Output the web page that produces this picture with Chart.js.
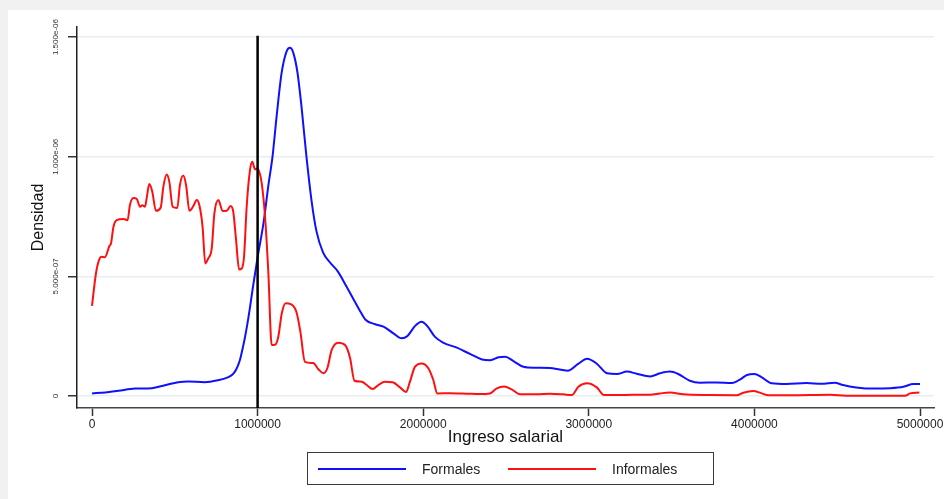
<!DOCTYPE html>
<html>
<head>
<meta charset="utf-8">
<script src="https://cdn.jsdelivr.net/npm/chart.js@4.4.1/dist/chart.umd.min.js"></script>
<style>
  html, body { margin: 0; padding: 0; background: #f1f1f1; }
  #panel { position: absolute; left: 8px; top: 10px; width: 936px; height: 489px; background: #fff; overflow: hidden; }
  #chart { position: absolute; left: 0; top: 0; }
  #legend {
    position: absolute; left: 299px; top: 442px; width: 405px; height: 31px;
    border: 1px solid #3a3a3a; font-family: 'Liberation Sans', Arial, sans-serif;
    font-size: 14px; color: #222;
  }
  .item { position: absolute; top: 0; height: 31px; display: flex; align-items: center; white-space: nowrap; }
  .swatch { width: 88px; height: 2px; margin-right: 16px; }
</style>
</head>
<body>
<div id="panel">
  <canvas id="chart" width="936" height="489"></canvas>
  <div id="legend"></div>
</div>
<script>
// kernel density of wage income, formal vs informal workers
const formalesX = [
  0, 80000, 160000, 260000, 360000, 440000, 520000, 580000, 680000, 760000,
  820000, 845000, 865000, 880000, 895000, 910000, 925000, 945000, 975000, 1000000,
  1035000, 1065000, 1090000, 1115000, 1145000, 1175000, 1195000, 1215000, 1240000, 1265000,
  1295000, 1325000, 1355000, 1395000, 1435000, 1485000, 1535000, 1575000, 1615000, 1650000,
  1710000, 1760000, 1820000, 1870000, 1905000, 1950000, 1990000, 2025000, 2070000, 2120000,
  2200000, 2285000, 2355000, 2405000, 2455000, 2495000, 2545000, 2605000, 2675000, 2765000,
  2825000, 2875000, 2935000, 2990000, 3050000, 3110000, 3170000, 3230000, 3290000, 3370000,
  3430000, 3490000, 3540000, 3610000, 3670000, 3770000, 3865000, 3915000, 3955000, 4000000,
  4045000, 4105000, 4195000, 4315000, 4405000, 4485000, 4535000, 4615000, 4720000, 4820000,
  4900000, 4960000, 5000000
];
const formalesY = [
  1.1e-8, 1.5e-8, 2.2e-8, 3.1e-8, 3.3e-8, 4.5e-8, 5.8e-8, 6.1e-8, 5.8e-8, 6.6e-8,
  7.8e-8, 8.8e-8, 1.04e-7, 1.25e-7, 1.55e-7, 2.0e-7, 2.5e-7, 3.3e-7, 4.7e-7, 5.8e-7,
  7.2e-7, 8.8e-7, 1.0e-6, 1.17e-6, 1.35e-6, 1.44e-6, 1.455e-6, 1.435e-6, 1.355e-6, 1.21e-6,
  1.0e-6, 8.2e-7, 6.9e-7, 6.0e-7, 5.6e-7, 5.2e-7, 4.6e-7, 4.1e-7, 3.6e-7, 3.2e-7,
  3.0e-7, 2.9e-7, 2.62e-7, 2.41e-7, 2.51e-7, 2.92e-7, 3.1e-7, 2.92e-7, 2.48e-7, 2.23e-7,
  2.03e-7, 1.75e-7, 1.53e-7, 1.5e-7, 1.62e-7, 1.64e-7, 1.46e-7, 1.22e-7, 1.18e-7, 1.17e-7,
  1.11e-7, 1.06e-7, 1.34e-7, 1.56e-7, 1.34e-7, 9.5e-8, 9.2e-8, 1.02e-7, 9.3e-8, 8.2e-8,
  9.5e-8, 1.02e-7, 9.2e-8, 6.4e-8, 5.6e-8, 5.7e-8, 5.4e-8, 7.0e-8, 8.8e-8, 9.2e-8,
  7.8e-8, 5.3e-8, 5.0e-8, 5.4e-8, 5.1e-8, 5.6e-8, 4.6e-8, 3.6e-8, 3.1e-8, 3.3e-8,
  3.9e-8, 5.0e-8, 5.0e-8
];

const informalesX = [
  0, 24000, 44000, 58000, 78000, 105000, 115000, 129000, 149000, 189000,
  215000, 229000, 250000, 270000, 290000, 304000, 320000, 330000, 346000, 364000,
  386000, 415000, 431000, 451000, 467000, 487000, 515000, 531000, 551000, 568000,
  588000, 612000, 632000, 648000, 668000, 684000, 702000, 723000, 739000, 763000,
  789000, 813000, 837000, 853000, 870000, 888000, 904000, 918000, 934000, 954000,
  968000, 984000, 994000, 1010000, 1025000, 1045000, 1065000, 1085000, 1105000, 1125000,
  1146000, 1170000, 1200000, 1234000, 1258000, 1286000, 1336000, 1367000, 1397000, 1421000,
  1447000, 1487000, 1528000, 1558000, 1585000, 1629000, 1659000, 1695000, 1729000, 1769000,
  1816000, 1860000, 1896000, 1920000, 1950000, 1991000, 2031000, 2061000, 2085000, 2162000,
  2263000, 2343000, 2403000, 2444000, 2488000, 2534000, 2585000, 2685000, 2766000, 2846000,
  2897000, 2937000, 2991000, 3048000, 3092000, 3168000, 3269000, 3370000, 3430000, 3490000,
  3571000, 3731000, 3893000, 3933000, 3993000, 4044000, 4084000, 4217000, 4457000, 4557000,
  4909000, 4940000, 4996000
];
const informalesY = [
  3.77e-7, 5.13e-7, 5.71e-7, 5.82e-7, 5.80e-7, 6.27e-7, 6.38e-7, 7.05e-7, 7.35e-7, 7.40e-7,
  7.35e-7, 7.98e-7, 8.27e-7, 8.24e-7, 7.91e-7, 7.97e-7, 7.91e-7, 8.26e-7, 8.86e-7, 8.54e-7,
  7.74e-7, 7.88e-7, 8.75e-7, 9.26e-7, 8.95e-7, 7.91e-7, 7.86e-7, 8.82e-7, 9.22e-7, 8.82e-7,
  7.74e-7, 7.94e-7, 8.19e-7, 7.98e-7, 7.05e-7, 5.54e-7, 5.75e-7, 6.17e-7, 7.63e-7, 8.19e-7,
  7.73e-7, 7.74e-7, 7.94e-7, 7.70e-7, 6.52e-7, 5.29e-7, 5.33e-7, 5.82e-7, 7.91e-7, 9.44e-7,
  9.79e-7, 9.47e-7, 9.51e-7, 9.37e-7, 8.89e-7, 7.49e-7, 5.13e-7, 2.13e-7, 2.14e-7, 2.48e-7,
  3.46e-7, 3.88e-7, 3.84e-7, 3.52e-7, 2.7e-7, 1.43e-7, 1.38e-7, 1.12e-7, 9.5e-8, 1.16e-7,
  1.92e-7, 2.23e-7, 2.13e-7, 1.6e-7, 6.4e-8, 6.0e-8, 4.6e-8, 2.9e-8, 4.6e-8, 6.0e-8,
  5.8e-8, 3.6e-8, 1.7e-8, 6.0e-8, 1.22e-7, 1.36e-7, 1.16e-7, 6.7e-8, 1.1e-8, 1.2e-8,
  1.0e-8, 8e-9, 1.1e-8, 3.2e-8, 4.0e-8, 2.8e-8, 7e-9, 7e-9, 1.0e-8, 7e-9,
  4e-9, 3.9e-8, 5.3e-8, 3.6e-8, 4e-9, 4e-9, 5e-9, 5e-9, 1.1e-8, 1.5e-8,
  7e-9, 4e-9, 3e-9, 1.4e-8, 2.1e-8, 1.1e-8, 3e-9, 3e-9, 5e-9, 1e-9,
  1e-9, 1.1e-8, 1.5e-8
];

const cutoffX = 1000000;          // reference line (minimum wage)
const xTicks = [0, 1000000, 2000000, 3000000, 4000000, 5000000];
const xTickLabels = ['0', '1000000', '2000000', '3000000', '4000000', '5000000'];
const yTicks = [0, 5e-7, 1e-6, 1.5e-6];
const yTickLabels = ['0', '5.000e-07', '1.000e-06', '1.500e-06'];

const xMin = -90600, xMax = 5084500;
const yMin = -5.0e-8, yMax = 1.542e-6;

const toPoints = (xs, ys) => xs.map((x, i) => ({ x: x, y: ys[i] }));
const FONT = "'Liberation Sans', Arial, sans-serif";

const ctx = document.getElementById('chart').getContext('2d');
const chart = new Chart(ctx, {
  type: 'line',
  data: {
    datasets: [
      {
        label: 'Formales',
        data: toPoints(formalesX, formalesY),
        borderColor: '#1010ff',
        backgroundColor: '#1010ff',
        borderWidth: 2,
        pointRadius: 0,
        cubicInterpolationMode: 'monotone',
        order: 2
      },
      {
        label: 'Informales',
        data: toPoints(informalesX, informalesY),
        borderColor: '#ff1010',
        backgroundColor: '#ff1010',
        borderWidth: 2,
        pointRadius: 0,
        cubicInterpolationMode: 'monotone',
        order: 1
      },
      {
        label: 'cutoff',
        data: [{ x: cutoffX, y: yMin }, { x: cutoffX, y: 1.505e-6 }],
        borderColor: '#000',
        borderWidth: 2.5,
        pointRadius: 0,
        order: 0,
        hideInLegend: true
      }
    ]
  },
  options: {
    responsive: false,
    animation: false,
    devicePixelRatio: 1,
    layout: { padding: { left: 0, right: 10, top: 17, bottom: 47 } },
    plugins: {
      legend: { display: false },
      tooltip: { enabled: false }
    },
    scales: {
      x: {
        type: 'linear',
        min: xMin,
        max: xMax,
        afterBuildTicks: (scale) => { scale.ticks = xTicks.map(v => ({ value: v })); },
        afterFit: (scale) => {
          scale.height = 44;
          scale.paddingLeft = 0;
          scale.paddingRight = 0;
        },
        grid: { drawOnChartArea: false, drawTicks: true, tickLength: 8, tickColor: '#333', tickWidth: 1.5 },
        border: { color: '#444', width: 1.5 },
        ticks: {
          autoSkip: false,
          maxRotation: 0,
          padding: 1,
          color: '#222',
          font: { family: FONT, size: 12 },
          callback: (v, i) => xTickLabels[i]
        },
        title: {
          display: true,
          text: 'Ingreso salarial',
          color: '#111',
          font: { family: FONT, size: 17 },
          padding: { top: 0, bottom: 4 }
        }
      },
      y: {
        type: 'linear',
        min: yMin,
        max: yMax,
        afterBuildTicks: (scale) => { scale.ticks = yTicks.map(v => ({ value: v })); },
        afterFit: (scale) => {
          scale.width = 69;
          scale.paddingTop = 0;
          scale.paddingBottom = 0;
        },
        grid: { color: '#e6eef2', lineWidth: 1.5, drawTicks: true, tickLength: 9, tickColor: '#333', tickWidth: 1.5 },
        border: { color: '#222', width: 1.5 },
        ticks: {
          autoSkip: false,
          minRotation: 90,
          maxRotation: 90,
          crossAlign: 'center',
          padding: -6,
          color: '#333',
          font: { family: FONT, size: 8 },
          callback: (v, i) => yTickLabels[i]
        },
        title: {
          display: true,
          text: 'Densidad',
          color: '#111',
          font: { family: "'Liberation Sans Narrow', " + FONT, size: 16 },
          padding: { top: 21, bottom: 0 }
        }
      }
    }
  }
});

// boxed legend below the plot, built from the chart's own datasets
const legendEl = document.getElementById('legend');
const itemLeft = [10, 200];
chart.data.datasets.filter(d => !d.hideInLegend).forEach((d, i) => {
  const item = document.createElement('div');
  item.className = 'item';
  item.style.left = itemLeft[i] + 'px';
  const sw = document.createElement('span');
  sw.className = 'swatch';
  sw.style.background = d.borderColor;
  const txt = document.createElement('span');
  txt.textContent = d.label;
  item.appendChild(sw);
  item.appendChild(txt);
  legendEl.appendChild(item);
});
</script>
</body>
</html>
